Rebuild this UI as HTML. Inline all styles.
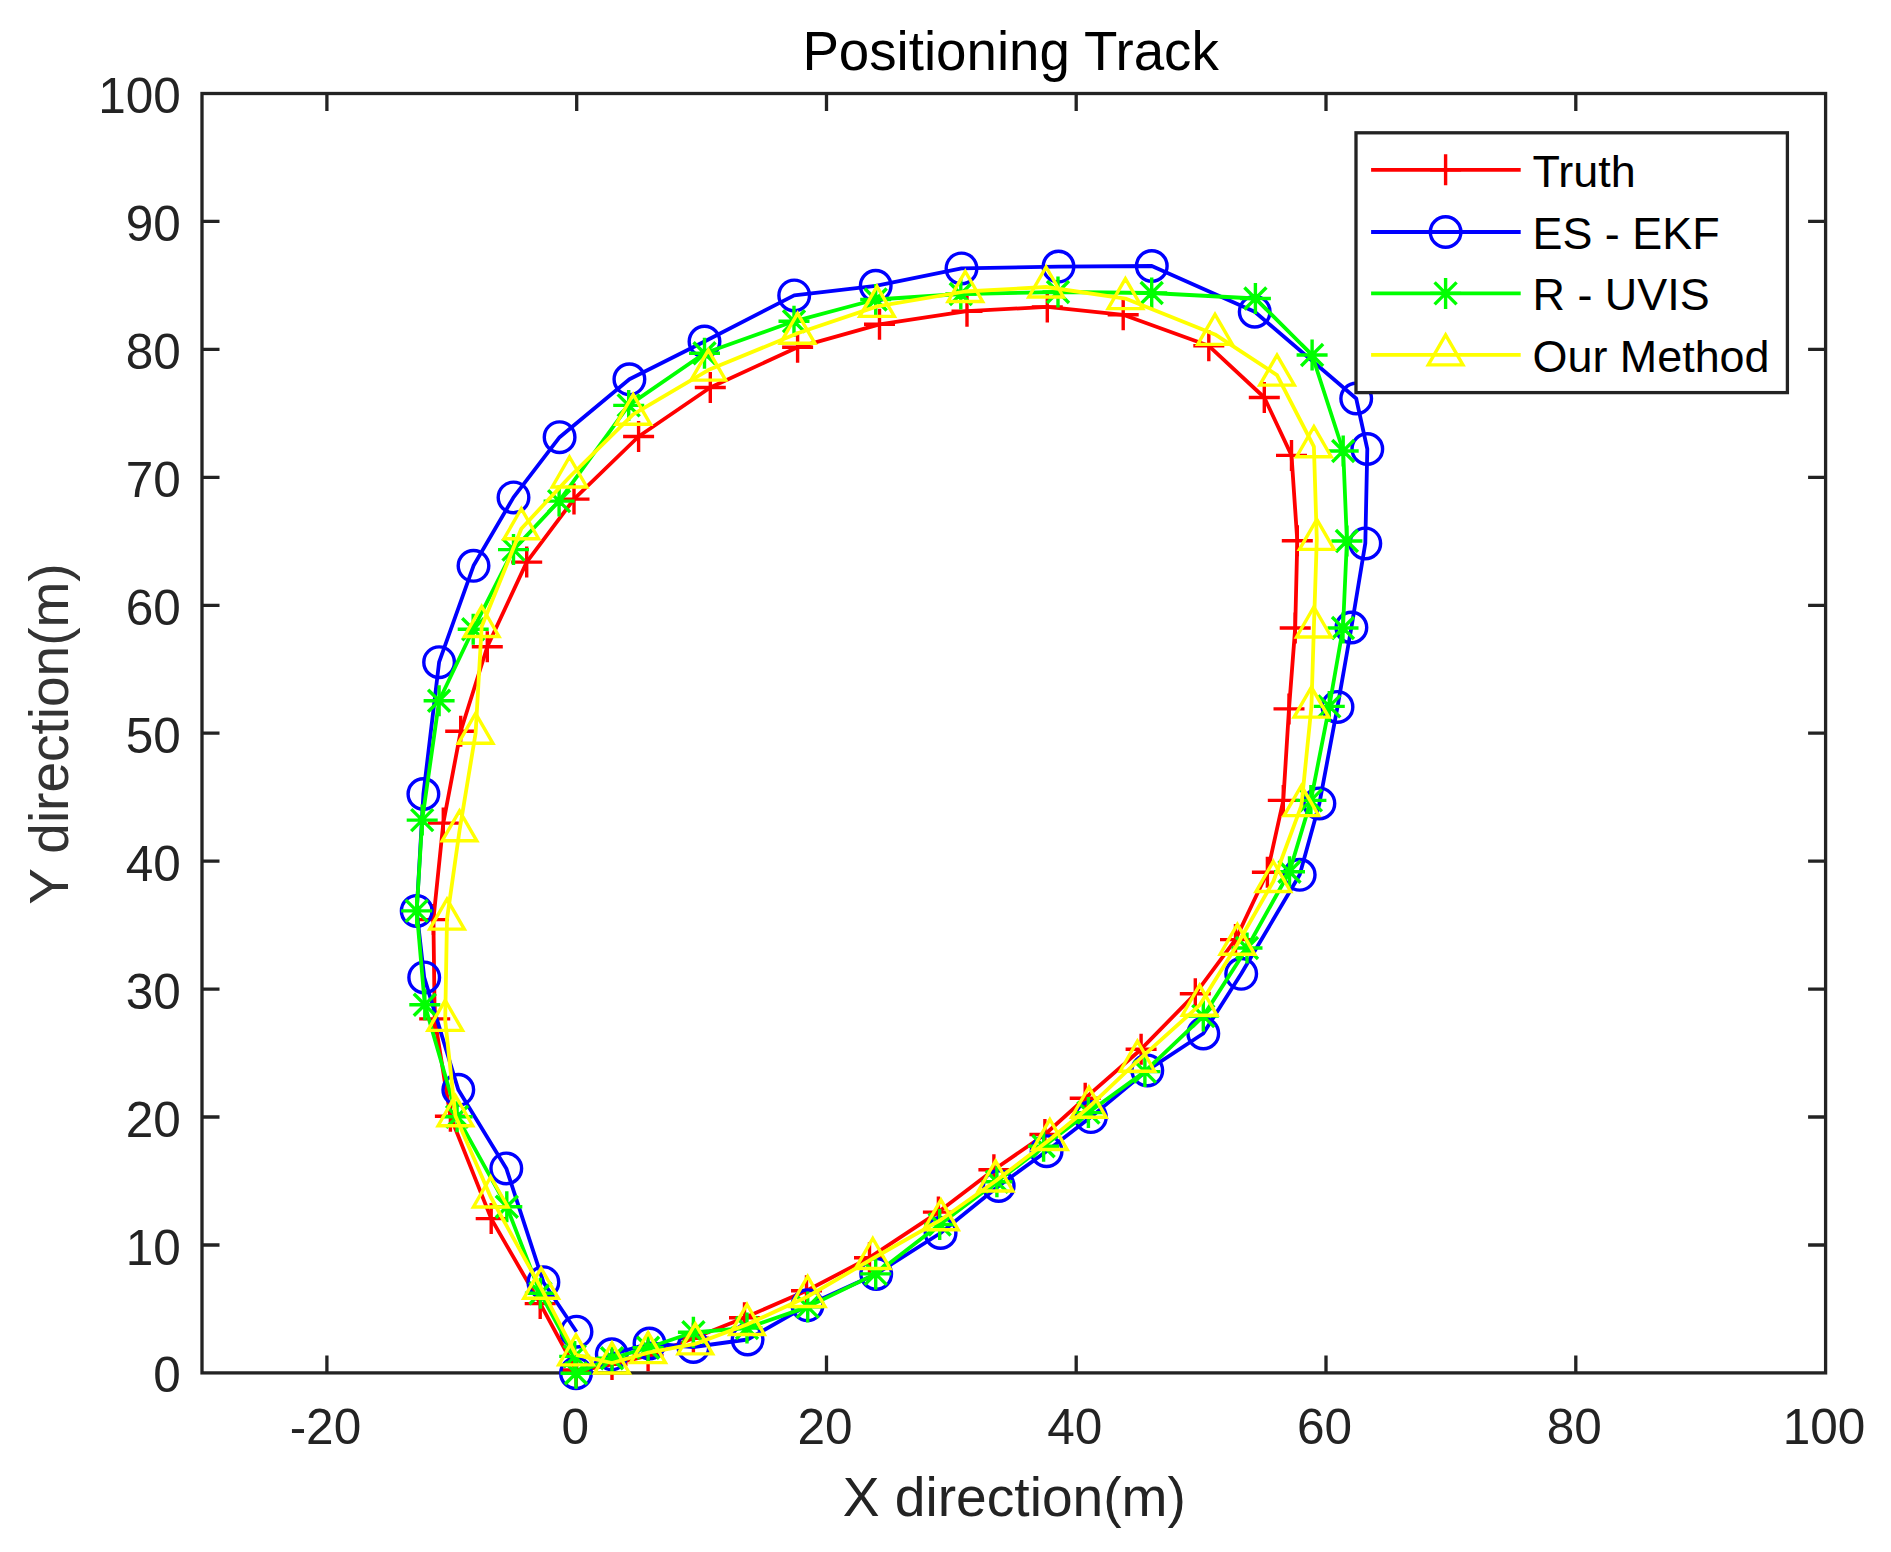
<!DOCTYPE html>
<html lang="en"><head><meta charset="utf-8"><title>Positioning Track</title>
<style>html,body{margin:0;padding:0;background:#fff}svg{display:block}text{font-family:"Liberation Sans",Arial,sans-serif}</style></head><body>
<svg width="1891" height="1552" viewBox="0 0 1891 1552">
<rect width="1891" height="1552" fill="#fff"/>
<g fill="none" stroke="#232323" stroke-width="3.3" stroke-linecap="butt">
<rect x="202" y="93.5" width="1623.6" height="1279.4"/>
<path d="M326.9 1372.9V1355.4M326.9 93.5V111M576.7 1372.9V1355.4M576.7 93.5V111M826.5 1372.9V1355.4M826.5 93.5V111M1076.2 1372.9V1355.4M1076.2 93.5V111M1326 1372.9V1355.4M1326 93.5V111M1575.8 1372.9V1355.4M1575.8 93.5V111M202 1245H219.5M1825.6 1245H1808.1M202 1117H219.5M1825.6 1117H1808.1M202 989.1H219.5M1825.6 989.1H1808.1M202 861.1H219.5M1825.6 861.1H1808.1M202 733.2H219.5M1825.6 733.2H1808.1M202 605.3H219.5M1825.6 605.3H1808.1M202 477.3H219.5M1825.6 477.3H1808.1M202 349.4H219.5M1825.6 349.4H1808.1M202 221.4H219.5M1825.6 221.4H1808.1"/>
</g>
<g fill="#232323" font-size="49.5">
<g text-anchor="middle">
<text x="325.4" y="1443.6">-20</text>
<text x="575.2" y="1443.6">0</text>
<text x="825" y="1443.6">20</text>
<text x="1074.7" y="1443.6">40</text>
<text x="1324.5" y="1443.6">60</text>
<text x="1574.3" y="1443.6">80</text>
<text x="1824.1" y="1443.6">100</text>
</g><g text-anchor="end">
<text x="180.8" y="1392.4">0</text>
<text x="180.8" y="1264.5">10</text>
<text x="180.8" y="1136.5">20</text>
<text x="180.8" y="1008.6">30</text>
<text x="180.8" y="880.6">40</text>
<text x="180.8" y="752.7">50</text>
<text x="180.8" y="624.8">60</text>
<text x="180.8" y="496.8">70</text>
<text x="180.8" y="368.9">80</text>
<text x="180.8" y="240.9">90</text>
<text x="180.8" y="113">100</text>
</g></g>
<text x="1010.6" y="69.7" text-anchor="middle" font-size="54.7" fill="#000">Positioning Track</text>
<text x="1014.3" y="1516.3" text-anchor="middle" font-size="55.15" fill="#232323">X direction(m)</text>
<text transform="translate(67.5 734) rotate(-90)" text-anchor="middle" font-size="55" fill="#333">Y direction(m)</text>
<g fill="none" stroke="#f00">
<path stroke-width="3.8" stroke-linejoin="round" d="M576.3 1371.5 L612 1364.4 L648.1 1355.7 L693.4 1338.3 L744.5 1317.7 L806.5 1290.8 L869.5 1257.7 L938.4 1212.1 L993.9 1169.8 L1044.9 1134.5 L1085.2 1098.2 L1141.1 1049.2 L1195.3 993.8 L1235.5 939.6 L1267.4 872.3 L1283.3 800.4 L1289 708.9 L1295.2 628 L1297.3 540.8 L1291.5 455.4 L1264.3 397.5 L1208.8 345.8 L1123.2 314.8 L1047.3 306.9 L967 311.2 L879.5 324.3 L797.6 347.3 L710.3 387.5 L638.6 436.5 L574 499.1 L526.7 562.1 L487.3 646.8 L460.7 731.3 L443.3 823.1 L433.4 919.6 L434.7 1018.9 L450.4 1116.2 L491.2 1218.6 L540.2 1303.6 L576 1370"/>
<path stroke-width="3.4" stroke-linejoin="miter" stroke-miterlimit="10" d="M560.8 1371.5H591.8M576.3 1356V1387M596.5 1364.4H627.5M612 1348.9V1379.9M632.6 1355.7H663.6M648.1 1340.2V1371.2M677.9 1338.3H708.9M693.4 1322.8V1353.8M729 1317.7H760M744.5 1302.2V1333.2M791 1290.8H822M806.5 1275.3V1306.3M854 1257.7H885M869.5 1242.2V1273.2M922.9 1212.1H953.9M938.4 1196.6V1227.6M978.4 1169.8H1009.4M993.9 1154.3V1185.3M1029.4 1134.5H1060.4M1044.9 1119V1150M1069.7 1098.2H1100.7M1085.2 1082.7V1113.7M1125.6 1049.2H1156.6M1141.1 1033.7V1064.7M1179.8 993.8H1210.8M1195.3 978.3V1009.3M1220 939.6H1251M1235.5 924.1V955.1M1251.9 872.3H1282.9M1267.4 856.8V887.8M1267.8 800.4H1298.8M1283.3 784.9V815.9M1273.5 708.9H1304.5M1289 693.4V724.4M1279.7 628H1310.7M1295.2 612.5V643.5M1281.8 540.8H1312.8M1297.3 525.3V556.3M1276 455.4H1307M1291.5 439.9V470.9M1248.8 397.5H1279.8M1264.3 382V413M1193.3 345.8H1224.3M1208.8 330.3V361.3M1107.7 314.8H1138.7M1123.2 299.3V330.3M1031.8 306.9H1062.8M1047.3 291.4V322.4M951.5 311.2H982.5M967 295.7V326.7M864 324.3H895M879.5 308.8V339.8M782.1 347.3H813.1M797.6 331.8V362.8M694.8 387.5H725.8M710.3 372V403M623.1 436.5H654.1M638.6 421V452M558.5 499.1H589.5M574 483.6V514.6M511.2 562.1H542.2M526.7 546.6V577.6M471.8 646.8H502.8M487.3 631.3V662.3M445.2 731.3H476.2M460.7 715.8V746.8M427.8 823.1H458.8M443.3 807.6V838.6M417.9 919.6H448.9M433.4 904.1V935.1M419.2 1018.9H450.2M434.7 1003.4V1034.4M434.9 1116.2H465.9M450.4 1100.7V1131.7M475.7 1218.6H506.7M491.2 1203.1V1234.1M524.7 1303.6H555.7M540.2 1288.1V1319.1M560.5 1370H591.5M576 1354.5V1385.5"/>
</g>
<g fill="none" stroke="#00f">
<path stroke-width="3.8" stroke-linejoin="round" d="M576 1373.2 L611.8 1354.3 L649.5 1343.5 L693.4 1347 L747.6 1339.5 L807.5 1305.3 L876.2 1273.9 L940.6 1233 L998.7 1186 L1046.6 1151.2 L1090.9 1117.1 L1147.3 1070.4 L1203.3 1033.5 L1241.2 973.8 L1299.7 874.8 L1319.4 803.4 L1337.5 706.9 L1351.4 627.5 L1365.3 543.4 L1367.3 449 L1356.2 398.5 L1254.7 311.7 L1151.8 266 L1058.5 266.6 L961.5 268.4 L875.7 285.8 L794.2 295.4 L704.5 341.5 L629.4 379.3 L559.6 437.2 L513.5 497.4 L473.5 565.8 L439.1 662.2 L423.4 794 L416.7 910.9 L424.2 977.4 L458.3 1089.8 L506.3 1168.4 L543.4 1282.2 L576.5 1331.7"/>
<g stroke-width="3.4">
<circle cx="576" cy="1373.2" r="15.3"/>
<circle cx="611.8" cy="1354.3" r="15.3"/>
<circle cx="649.5" cy="1343.5" r="15.3"/>
<circle cx="693.4" cy="1347" r="15.3"/>
<circle cx="747.6" cy="1339.5" r="15.3"/>
<circle cx="807.5" cy="1305.3" r="15.3"/>
<circle cx="876.2" cy="1273.9" r="15.3"/>
<circle cx="940.6" cy="1233" r="15.3"/>
<circle cx="998.7" cy="1186" r="15.3"/>
<circle cx="1046.6" cy="1151.2" r="15.3"/>
<circle cx="1090.9" cy="1117.1" r="15.3"/>
<circle cx="1147.3" cy="1070.4" r="15.3"/>
<circle cx="1203.3" cy="1033.5" r="15.3"/>
<circle cx="1241.2" cy="973.8" r="15.3"/>
<circle cx="1299.7" cy="874.8" r="15.3"/>
<circle cx="1319.4" cy="803.4" r="15.3"/>
<circle cx="1337.5" cy="706.9" r="15.3"/>
<circle cx="1351.4" cy="627.5" r="15.3"/>
<circle cx="1365.3" cy="543.4" r="15.3"/>
<circle cx="1367.3" cy="449" r="15.3"/>
<circle cx="1356.2" cy="398.5" r="15.3"/>
<circle cx="1254.7" cy="311.7" r="15.3"/>
<circle cx="1151.8" cy="266" r="15.3"/>
<circle cx="1058.5" cy="266.6" r="15.3"/>
<circle cx="961.5" cy="268.4" r="15.3"/>
<circle cx="875.7" cy="285.8" r="15.3"/>
<circle cx="794.2" cy="295.4" r="15.3"/>
<circle cx="704.5" cy="341.5" r="15.3"/>
<circle cx="629.4" cy="379.3" r="15.3"/>
<circle cx="559.6" cy="437.2" r="15.3"/>
<circle cx="513.5" cy="497.4" r="15.3"/>
<circle cx="473.5" cy="565.8" r="15.3"/>
<circle cx="439.1" cy="662.2" r="15.3"/>
<circle cx="423.4" cy="794" r="15.3"/>
<circle cx="416.7" cy="910.9" r="15.3"/>
<circle cx="424.2" cy="977.4" r="15.3"/>
<circle cx="458.3" cy="1089.8" r="15.3"/>
<circle cx="506.3" cy="1168.4" r="15.3"/>
<circle cx="543.4" cy="1282.2" r="15.3"/>
<circle cx="576.5" cy="1331.7" r="15.3"/>
</g>
</g>
<g fill="none" stroke="#0f0">
<path stroke-width="3.8" stroke-linejoin="round" d="M576 1373.2 L612 1358.2 L648.1 1347.7 L693.4 1332.3 L747 1328 L807.7 1306.9 L875.7 1273.9 L939.7 1224.5 L996.9 1181.8 L1043.6 1146.2 L1088.4 1112.6 L1144.9 1071.6 L1203.3 1016.1 L1247 948 L1289.5 871.8 L1310.9 800.4 L1329.3 706.4 L1343 628 L1346.9 541 L1343.2 451 L1312.1 355 L1255.4 298.5 L1151.7 293 L1058 292 L960.8 294 L875.7 299.5 L794 321.3 L704.5 353.2 L628.7 405.4 L559.1 501.1 L513.5 549.6 L473.2 629.3 L439.1 700.7 L422.2 820.1 L416.7 910.9 L424.8 1004.8 L457.1 1116.7 L506.8 1206.7 L540.4 1293.3 L574.7 1356.4"/>
<path stroke-width="3.4" stroke-linejoin="miter" stroke-miterlimit="10" d="M560.5 1373.2H591.5M576 1357.7V1388.7M565 1362.2L587 1384.2M565 1384.2L587 1362.2M596.5 1358.2H627.5M612 1342.7V1373.7M601 1347.2L623 1369.2M601 1369.2L623 1347.2M632.6 1347.7H663.6M648.1 1332.2V1363.2M637.1 1336.7L659.1 1358.7M637.1 1358.7L659.1 1336.7M677.9 1332.3H708.9M693.4 1316.8V1347.8M682.4 1321.3L704.4 1343.3M682.4 1343.3L704.4 1321.3M731.5 1328H762.5M747 1312.5V1343.5M736 1317L758 1339M736 1339L758 1317M792.2 1306.9H823.2M807.7 1291.4V1322.4M796.7 1295.9L818.7 1317.9M796.7 1317.9L818.7 1295.9M860.2 1273.9H891.2M875.7 1258.4V1289.4M864.7 1262.9L886.7 1284.9M864.7 1284.9L886.7 1262.9M924.2 1224.5H955.2M939.7 1209V1240M928.7 1213.5L950.7 1235.5M928.7 1235.5L950.7 1213.5M981.4 1181.8H1012.4M996.9 1166.3V1197.3M985.9 1170.8L1007.9 1192.8M985.9 1192.8L1007.9 1170.8M1028.1 1146.2H1059.1M1043.6 1130.7V1161.7M1032.6 1135.2L1054.6 1157.2M1032.6 1157.2L1054.6 1135.2M1072.9 1112.6H1103.9M1088.4 1097.1V1128.1M1077.4 1101.6L1099.4 1123.6M1077.4 1123.6L1099.4 1101.6M1129.4 1071.6H1160.4M1144.9 1056.1V1087.1M1133.9 1060.6L1155.9 1082.6M1133.9 1082.6L1155.9 1060.6M1187.8 1016.1H1218.8M1203.3 1000.6V1031.6M1192.3 1005.1L1214.3 1027.1M1192.3 1027.1L1214.3 1005.1M1231.5 948H1262.5M1247 932.5V963.5M1236 937L1258 959M1236 959L1258 937M1274 871.8H1305M1289.5 856.3V887.3M1278.5 860.8L1300.5 882.8M1278.5 882.8L1300.5 860.8M1295.4 800.4H1326.4M1310.9 784.9V815.9M1299.9 789.4L1321.9 811.4M1299.9 811.4L1321.9 789.4M1313.8 706.4H1344.8M1329.3 690.9V721.9M1318.3 695.4L1340.3 717.4M1318.3 717.4L1340.3 695.4M1327.5 628H1358.5M1343 612.5V643.5M1332 617L1354 639M1332 639L1354 617M1331.4 541H1362.4M1346.9 525.5V556.5M1335.9 530L1357.9 552M1335.9 552L1357.9 530M1327.7 451H1358.7M1343.2 435.5V466.5M1332.2 440L1354.2 462M1332.2 462L1354.2 440M1296.6 355H1327.6M1312.1 339.5V370.5M1301.1 344L1323.1 366M1301.1 366L1323.1 344M1239.9 298.5H1270.9M1255.4 283V314M1244.4 287.5L1266.4 309.5M1244.4 309.5L1266.4 287.5M1136.2 293H1167.2M1151.7 277.5V308.5M1140.7 282L1162.7 304M1140.7 304L1162.7 282M1042.5 292H1073.5M1058 276.5V307.5M1047 281L1069 303M1047 303L1069 281M945.3 294H976.3M960.8 278.5V309.5M949.8 283L971.8 305M949.8 305L971.8 283M860.2 299.5H891.2M875.7 284V315M864.7 288.5L886.7 310.5M864.7 310.5L886.7 288.5M778.5 321.3H809.5M794 305.8V336.8M783 310.3L805 332.3M783 332.3L805 310.3M689 353.2H720M704.5 337.7V368.7M693.5 342.2L715.5 364.2M693.5 364.2L715.5 342.2M613.2 405.4H644.2M628.7 389.9V420.9M617.7 394.4L639.7 416.4M617.7 416.4L639.7 394.4M543.6 501.1H574.6M559.1 485.6V516.6M548.1 490.1L570.1 512.1M548.1 512.1L570.1 490.1M498 549.6H529M513.5 534.1V565.1M502.5 538.6L524.5 560.6M502.5 560.6L524.5 538.6M457.7 629.3H488.7M473.2 613.8V644.8M462.2 618.3L484.2 640.3M462.2 640.3L484.2 618.3M423.6 700.7H454.6M439.1 685.2V716.2M428.1 689.7L450.1 711.7M428.1 711.7L450.1 689.7M406.7 820.1H437.7M422.2 804.6V835.6M411.2 809.1L433.2 831.1M411.2 831.1L433.2 809.1M401.2 910.9H432.2M416.7 895.4V926.4M405.7 899.9L427.7 921.9M405.7 921.9L427.7 899.9M409.3 1004.8H440.3M424.8 989.3V1020.3M413.8 993.8L435.8 1015.8M413.8 1015.8L435.8 993.8M441.6 1116.7H472.6M457.1 1101.2V1132.2M446.1 1105.7L468.1 1127.7M446.1 1127.7L468.1 1105.7M491.3 1206.7H522.3M506.8 1191.2V1222.2M495.8 1195.7L517.8 1217.7M495.8 1217.7L517.8 1195.7M524.9 1293.3H555.9M540.4 1277.8V1308.8M529.4 1282.3L551.4 1304.3M529.4 1304.3L551.4 1282.3M559.2 1356.4H590.2M574.7 1340.9V1371.9M563.7 1345.4L585.7 1367.4M563.7 1367.4L585.7 1345.4"/>
</g>
<g fill="none" stroke="#ff0">
<path stroke-width="3.8" stroke-linejoin="round" d="M576 1354.9 L612 1363 L648.1 1352.6 L695.3 1343.9 L747 1324.5 L807.7 1296.5 L872.8 1258.5 L940.9 1219.8 L995.6 1181 L1049.9 1139.5 L1088.9 1107.2 L1137.4 1061.2 L1199.6 1005.2 L1237.4 944.3 L1273.3 881.5 L1301.4 805.6 L1311.4 707.1 L1313.9 627 L1316.8 539.4 L1313.9 446.7 L1277 375.1 L1215 334.4 L1125.4 298.6 L1046.1 287 L965.3 291.5 L877 306.4 L797.6 333.3 L708.3 370.1 L633.2 414.3 L569.5 477 L521.3 528.7 L481.7 626.5 L475.6 733.3 L459.5 830.8 L447 919.1 L445.2 1020.4 L455.4 1115.7 L490.7 1197 L541.1 1288.2 L576 1354.9"/>
<path stroke-width="3.4" stroke-linejoin="miter" stroke-miterlimit="10" d="M576 1334.9L593.3 1364.9L558.7 1364.9ZM612 1343L629.3 1373L594.7 1373ZM648.1 1332.6L665.4 1362.6L630.8 1362.6ZM695.3 1323.9L712.6 1353.9L678 1353.9ZM747 1304.5L764.3 1334.5L729.7 1334.5ZM807.7 1276.5L825 1306.5L790.4 1306.5ZM872.8 1238.5L890.1 1268.5L855.5 1268.5ZM940.9 1199.8L958.2 1229.8L923.6 1229.8ZM995.6 1161L1012.9 1191L978.3 1191ZM1049.9 1119.5L1067.2 1149.5L1032.6 1149.5ZM1088.9 1087.2L1106.2 1117.2L1071.6 1117.2ZM1137.4 1041.2L1154.7 1071.2L1120.1 1071.2ZM1199.6 985.2L1216.9 1015.2L1182.3 1015.2ZM1237.4 924.3L1254.7 954.3L1220.1 954.3ZM1273.3 861.5L1290.6 891.5L1256 891.5ZM1301.4 785.6L1318.7 815.6L1284.1 815.6ZM1311.4 687.1L1328.7 717.1L1294.1 717.1ZM1313.9 607L1331.2 637L1296.6 637ZM1316.8 519.4L1334.1 549.4L1299.5 549.4ZM1313.9 426.7L1331.2 456.7L1296.6 456.7ZM1277 355.1L1294.3 385.1L1259.7 385.1ZM1215 314.4L1232.3 344.4L1197.7 344.4ZM1125.4 278.6L1142.7 308.6L1108.1 308.6ZM1046.1 267L1063.4 297L1028.8 297ZM965.3 271.5L982.6 301.5L948 301.5ZM877 286.4L894.3 316.4L859.7 316.4ZM797.6 313.3L814.9 343.3L780.3 343.3ZM708.3 350.1L725.6 380.1L691 380.1ZM633.2 394.3L650.5 424.3L615.9 424.3ZM569.5 457L586.8 487L552.2 487ZM521.3 508.7L538.6 538.7L504 538.7ZM481.7 606.5L499 636.5L464.4 636.5ZM475.6 713.3L492.9 743.3L458.3 743.3ZM459.5 810.8L476.8 840.8L442.2 840.8ZM447 899.1L464.3 929.1L429.7 929.1ZM445.2 1000.4L462.5 1030.4L427.9 1030.4ZM455.4 1095.7L472.7 1125.7L438.1 1125.7ZM490.7 1177L508 1207L473.4 1207ZM541.1 1268.2L558.4 1298.2L523.8 1298.2ZM576 1334.9L593.3 1364.9L558.7 1364.9Z"/>
</g>
<rect x="1356" y="132.8" width="431.4" height="259.8" fill="#fff" stroke="#232323" stroke-width="3.3"/>
<g fill="none" stroke="#f00">
<path stroke-width="3.8" d="M1371.1 169.8H1520.7"/>
<path stroke-width="3.4" stroke-miterlimit="10" d="M1430.1 169.8H1461.1M1445.6 154.3V185.3"/>
</g>
<text x="1532.5" y="186.6" font-size="44.9" fill="#000">Truth</text>
<g fill="none" stroke="#00f">
<path stroke-width="3.8" d="M1371.1 232H1520.7"/>
<circle cx="1445.6" cy="232" r="15.3" stroke-width="3.4"/>
</g>
<text x="1532.5" y="248.8" font-size="44.9" fill="#000">ES - EKF</text>
<g fill="none" stroke="#0f0">
<path stroke-width="3.8" d="M1371.1 293.4H1520.7"/>
<path stroke-width="3.4" stroke-miterlimit="10" d="M1430.1 293.4H1461.1M1445.6 277.9V308.9M1434.6 282.4L1456.6 304.4M1434.6 304.4L1456.6 282.4"/>
</g>
<text x="1532.5" y="310.2" font-size="44.9" fill="#000">R - UVIS</text>
<g fill="none" stroke="#ff0">
<path stroke-width="3.8" d="M1371.1 354.9H1520.7"/>
<path stroke-width="3.4" stroke-miterlimit="10" d="M1445.6 334.9L1462.9 364.9L1428.3 364.9Z"/>
</g>
<text x="1532.5" y="371.7" font-size="44.9" fill="#000">Our Method</text>
</svg></body></html>
